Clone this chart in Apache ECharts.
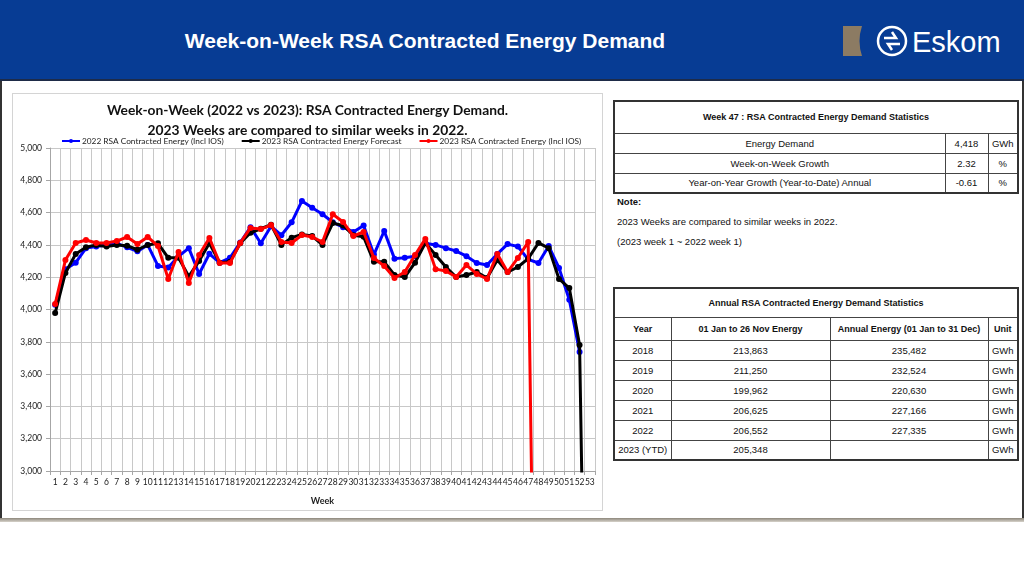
<!DOCTYPE html>
<html>
<head>
<meta charset="utf-8">
<script src="https://cdn.jsdelivr.net/npm/echarts@6/dist/echarts.min.js"></script>
<style>
  html, body { margin: 0; padding: 0; background: #fff; }
  body { width: 1024px; height: 576px; position: relative; overflow: hidden; font-family: "Liberation Sans", Arial, sans-serif; }
  #header { position: absolute; left: 0; top: 0; width: 1024px; height: 79px; background: #073c94; border-bottom: 2px solid #1e2b48; }
  #htitle { position: absolute; left: 0; width: 850px; top: 29px; text-align: center; color: #fff; font-weight: bold; font-size: 21px; }
  #frame { position: absolute; left: 0; top: 81px; width: 1024px; height: 437px; border-left: 2px solid #333; border-right: 2px solid #333; box-sizing: border-box; }
  #bottomline { position: absolute; left: 0; top: 518px; width: 1024px; height: 4px; background: linear-gradient(#8d877c, #d6d2ca); }
  #chartbox { position: absolute; left: 12px; top: 93px; width: 591px; height: 418px; border: 1px solid #d4d4d4; box-sizing: border-box; }
  #chart { position: absolute; left: 12px; top: 93px; width: 591px; height: 418px; }
  table { border-collapse: collapse; position: absolute; table-layout: fixed; font-family: "Liberation Sans", Arial, sans-serif; color: #111; }
  td { border: 1px solid #444; text-align: center; padding: 0; font-size: 9.5px; overflow: hidden; white-space: nowrap; }
  td.b { font-weight: bold; font-size: 9px; }
  #t1 { left: 613px; top: 100px; width: 404px; border: 2px solid #333; }
  #t2 { left: 613px; top: 287px; width: 404px; border: 2px solid #333; }
  .note { position: absolute; left: 617px; font-size: 9.5px; color: #111; }
</style>
</head>
<body>
<div id="header">
  <div id="htitle">Week-on-Week RSA Contracted Energy Demand</div>
  <svg style="position:absolute;left:840px;top:22px" width="170" height="40" viewBox="0 0 170 40">
    <path d="M3 4 H22 Q17 19 22 34 H3 Z" fill="#8c7b63"/>
    <circle cx="52" cy="19" r="14" fill="none" stroke="#fff" stroke-width="2.5"/>
    <path d="M44 16 H56 L52 10 M60 22 H48 L52 28" fill="none" stroke="#fff" stroke-width="2.5"/>
    <text x="72" y="30" fill="#fff" font-size="29" font-family="Liberation Sans, Arial, sans-serif">Eskom</text>
  </svg>
</div>
<div id="frame"></div>
<div id="bottomline"></div>
<div id="chartbox"></div>
<div id="chart"></div>

<table id="t1">
  <colgroup><col style="width:331px"><col style="width:43px"><col style="width:30px"></colgroup>
  <tr style="height:32px"><td class="b" colspan="3">Week 47 : RSA Contracted Energy Demand Statistics</td></tr>
  <tr style="height:20px"><td>Energy Demand</td><td>4,418</td><td>GWh</td></tr>
  <tr style="height:20px"><td>Week-on-Week Growth</td><td>2.32</td><td>%</td></tr>
  <tr style="height:20px"><td>Year-on-Year Growth (Year-to-Date) Annual</td><td>-0.61</td><td>%</td></tr>
</table>
<div class="note" style="top:196px;font-weight:bold">Note:</div>
<div class="note" style="top:216px">2023 Weeks are compared to similar weeks in 2022.</div>
<div class="note" style="top:236px">(2023 week 1 ~ 2022 week 1)</div>

<table id="t2">
  <colgroup><col style="width:57px"><col style="width:159px"><col style="width:158px"><col style="width:30px"></colgroup>
  <tr style="height:29px"><td class="b" colspan="4">Annual RSA Contracted Energy Demand Statistics</td></tr>
  <tr style="height:23px"><td class="b">Year</td><td class="b">01 Jan to 26 Nov Energy</td><td class="b">Annual Energy (01 Jan to 31 Dec)</td><td class="b">Unit</td></tr>
  <tbody id="t2body"></tbody>
</table>

<script>
// ---- Data ----
const weeks = ["1","2","3","4","5","6","7","8","9","10","11","12","13","14","15","16","17","18","19","20","21","22","23","24","25","26","27","28","29","30","31","32","33","34","35","36","37","38","39","40","41","42","43","44","45","46","47","48","49","50","51","52","53"];
const energy2022 = [4030,4250,4290,4380,4390,4400,4410,4385,4360,4400,4270,4260,4330,4380,4220,4345,4290,4320,4415,4510,4410,4515,4460,4540,4672,4630,4590,4540,4510,4480,4520,4340,4486,4315,4320,4330,4410,4400,4380,4362,4330,4288,4276,4344,4405,4390,4310,4288,4393,4257,4060,3737,null];
const forecast2023 = [3978,4226,4344,4385,4400,4390,4400,4395,4370,4400,4410,4320,4320,4205,4300,4410,4290,4295,4410,4475,4500,4525,4400,4445,4465,4455,4400,4535,4520,4460,4450,4295,4295,4214,4201,4290,4412,4337,4263,4201,4214,4232,4195,4306,4232,4263,4315,4412,4380,4189,4133,3780,0];
const energy2023 = [4034,4306,4412,4430,4412,4412,4424,4449,4405,4449,4393,4189,4356,4164,4337,4443,4288,4288,4412,4505,4498,4523,4418,4412,4461,4449,4418,4590,4542,4455,4480,4319,4269,4195,4232,4337,4437,4250,4238,4201,4275,4220,4189,4344,4232,4319,4418,0];
const seriesNames = ["2022 RSA Contracted Energy (Incl IOS)", "2023 RSA Contracted Energy Forecast", "2023 RSA Contracted Energy (Incl IOS)"];
const yTicks = { min: 3000, max: 5000, step: 200 };

const years = ["2018","2019","2020","2021","2022","2023 (YTD)"];
const ytdEnergy = ["213,863","211,250","199,962","206,625","206,552","205,348"];
const annualEnergy = ["235,482","232,524","220,630","227,166","227,335",""];

// ---- Table 2 rows ----
const tb = document.getElementById('t2body');
years.forEach((y, i) => {
  const tr = document.createElement('tr');
  tr.style.height = '20px';
  [y, ytdEnergy[i], annualEnergy[i], 'GWh'].forEach(v => {
    const td = document.createElement('td'); td.textContent = v; tr.appendChild(td);
  });
  tb.appendChild(tr);
});

// ---- Chart ----
const font = 'Lato, "Open Sans", sans-serif';
const chart = echarts.init(document.getElementById('chart'));
const colors = ['#0000ff', '#000000', '#ff0000'];
const datas = [energy2022, forecast2023, energy2023];
chart.setOption({
  animation: false,
  title: {
    text: 'Week-on-Week (2022 vs 2023): RSA Contracted Energy Demand.\n2023 Weeks are compared to similar weeks in 2022.',
    left: 'center', top: 3,
    textStyle: { fontFamily: font, fontSize: 13.8, fontWeight: 'bold', color: '#111', lineHeight: 19.5 }
  },
  legend: {
    top: 44, left: 49, padding: 0, width: 560,
    itemWidth: 18, itemHeight: 5, itemGap: 17,
    textStyle: { fontFamily: font, fontSize: 8.3, color: '#222', padding: [0, 0, 0, -3] },
    data: seriesNames
  },
  grid: { left: 38, top: 55, right: 8, bottom: 40, outerBoundsMode: 'none', containLabel: false },
  xAxis: {
    type: 'category', data: weeks, boundaryGap: true,
    name: 'Week', nameLocation: 'middle', nameGap: 26,
    nameTextStyle: { fontFamily: font, fontSize: 9, fontWeight: 'bold', color: '#222' },
    axisLine: { lineStyle: { color: '#a6a6a6' } },
    axisTick: { show: true, length: 4, lineStyle: { color: '#a6a6a6' } },
    axisLabel: { interval: 0, fontFamily: font, fontSize: 8.5, color: '#222', margin: 7 },
    splitLine: { show: true, interval: 0, lineStyle: { color: '#c8c8c8' } }
  },
  yAxis: {
    type: 'value', min: yTicks.min, max: yTicks.max, interval: yTicks.step,
    name: 'Energy Demand GWh', nameLocation: 'middle', nameGap: 34, nameRotate: 90,
    nameTextStyle: { fontFamily: font, fontSize: 8.5, fontWeight: 'bold', color: '#222' },
    axisLine: { show: true, lineStyle: { color: '#a6a6a6' } },
    axisTick: { show: true, length: 4, lineStyle: { color: '#a6a6a6' } },
    axisLabel: { fontFamily: font, fontSize: 8.5, color: '#222', margin: 8,
      formatter: v => v.toLocaleString('en-US') },
    splitLine: { show: true, lineStyle: { color: '#c8c8c8' } }
  },
  series: seriesNames.map((n, i) => ({
    name: n, type: 'line', data: datas[i], clip: true,
    color: colors[i],
    symbol: 'circle', symbolSize: 6,
    lineStyle: { width: 3, color: colors[i] },
    itemStyle: { color: colors[i] },
    connectNulls: false, z: 2 + i
  }))
});
</script>
</body>
</html>
